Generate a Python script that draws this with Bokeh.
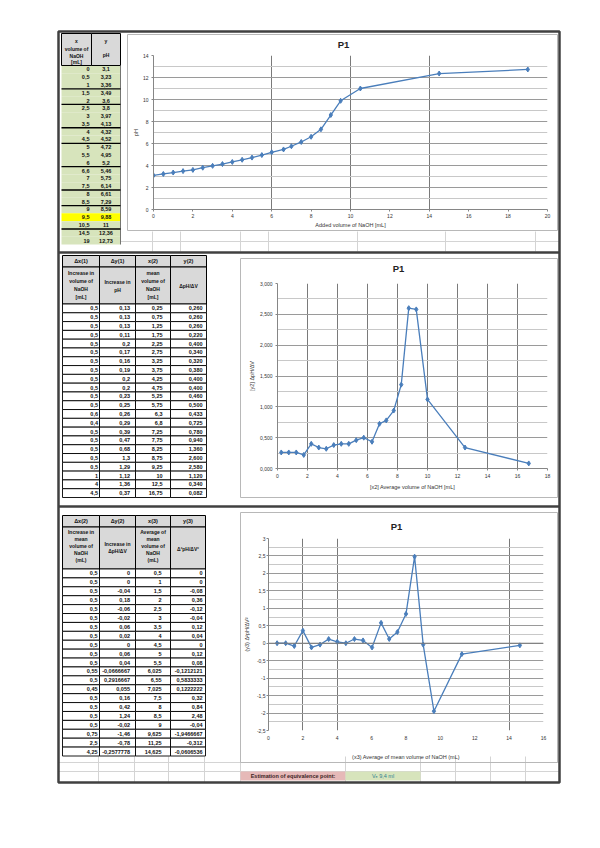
from bokeh.plotting import figure
from bokeh.models import Range1d, FixedTicker, Span
from bokeh.core.properties import value
from bokeh.embed import file_html
from bokeh.resources import INLINE

# ---------------- data ----------------
volume_ml = [0, 0.5, 1, 1.5, 2, 2.5, 3, 3.5, 4, 4.5, 5, 5.5, 6, 6.6, 7, 7.5, 8, 8.5, 9, 9.5, 10.5, 14.5, 19]
ph = [3.10, 3.23, 3.36, 3.49, 3.60, 3.80, 3.97, 4.13, 4.32, 4.52, 4.72, 4.95, 5.20, 5.46, 5.75, 6.14,
      6.61, 7.29, 8.59, 9.88, 11.00, 12.36, 12.73]
equivalence_row = 19

dx1 = [0.5, 0.5, 0.5, 0.5, 0.5, 0.5, 0.5, 0.5, 0.5, 0.5, 0.5, 0.5, 0.6, 0.4, 0.5, 0.5, 0.5, 0.5, 0.5, 1, 4, 4.5]
dy1 = [0.13, 0.13, 0.13, 0.11, 0.2, 0.17, 0.16, 0.19, 0.2, 0.2, 0.23, 0.25, 0.26, 0.29, 0.39, 0.47, 0.68, 1.3,
       1.29, 1.12, 1.36, 0.37]
x2 = [0.25, 0.75, 1.25, 1.75, 2.25, 2.75, 3.25, 3.75, 4.25, 4.75, 5.25, 5.75, 6.3, 6.8, 7.25, 7.75, 8.25, 8.75,
      9.25, 10, 12.5, 16.75]
y2 = [0.26, 0.26, 0.26, 0.22, 0.40, 0.34, 0.32, 0.38, 0.40, 0.40, 0.46, 0.50, 0.4333333, 0.725, 0.78, 0.94,
      1.36, 2.60, 2.58, 1.12, 0.34, 0.0822222]

dx2 = [0.5, 0.5, 0.5, 0.5, 0.5, 0.5, 0.5, 0.5, 0.5, 0.5, 0.5, 0.55, 0.5, 0.45, 0.5, 0.5, 0.5, 0.5, 0.75, 2.5, 4.25]
dy2 = [0, 0, -0.04, 0.18, -0.06, -0.02, 0.06, 0.02, 0, 0.06, 0.04, -0.0666667, 0.2916667, 0.055, 0.16, 0.42,
       1.24, -0.02, -1.46, -0.78, -0.2577778]
x3 = [0.5, 1, 1.5, 2, 2.5, 3, 3.5, 4, 4.5, 5, 5.5, 6.025, 6.55, 7.025, 7.5, 8, 8.5, 9, 9.625, 11.25, 14.625]
y3 = [0, 0, -0.08, 0.36, -0.12, -0.04, 0.12, 0.04, 0, 0.12, 0.08, -0.1212121, 0.5833333, 0.1222222, 0.32,
      0.84, 2.48, -0.04, -1.9466667, -0.312, -0.0606536]

c1_xticks = [0, 2, 4, 6, 8, 10, 12, 14, 16, 18, 20]
c1_yticks = [0, 2, 4, 6, 8, 10, 12, 14]
c2_xticks = [0, 2, 4, 6, 8, 10, 12, 14, 16, 18]
c2_yticks = [0, 0.5, 1, 1.5, 2, 2.5, 3]
c2_ylabels = ["0,000", "0,500", "1,000", "1,500", "2,000", "2,500", "3,000"]
c3_xticks = [0, 2, 4, 6, 8, 10, 12, 14, 16]
c3_yticks = [-2.5, -2, -1.5, -1, -0.5, 0, 0.5, 1, 1.5, 2, 2.5, 3]
c3_ylabels = ["-2,5", "-2", "-1,5", "-1", "-0,5", "0", "0,5", "1", "1,5", "2", "2,5", "3"]

equivalence_label = "Estimation of equivalence point:"
equivalence_value = "Vₑ 9,4 ml"

FONT = value("Liberation Sans")
BLUE = "#4a7ebb"


def g(v, nd=7):
    s = f"{v:.{nd}f}".rstrip("0").rstrip(".")
    if s in ("-0", ""):
        s = "0"
    return s.replace(".", ",")


# ---------------- sheet (background page) ----------------
W, H = 584, 800
sheet = figure(width=W, height=H, x_range=Range1d(8, 8 + W), y_range=Range1d(8 + H, 8),
               toolbar_location=None, output_backend="svg", x_axis_location=None,
               y_axis_location=None, min_border=0, outline_line_color=None)
sheet.grid.visible = False
sheet.styles = {"position": "absolute", "left": "8px", "top": "8px"}


def seg(x0, y0, x1, y1, color, lw):
    sheet.segment(x0=x0, y0=y0, x1=x1, y1=y1, line_color=color, line_width=lw)


def txt(xs, ys, ts, align="right", size="5.5px", bold=True, color="#111111"):
    sheet.text(x=xs, y=ys, text=ts, text_align=align, text_baseline="middle", text_font=FONT,
               text_font_size=size, text_font_style="bold" if bold else "normal", text_color=color)


LIGHT = "#d4d4d4"
vx = [152, 180, 240, 268, 357, 445, 535]
seg(vx, [231] * len(vx), vx, [251] * len(vx), LIGHT, 1)
seg([120], [241], [559], [241], LIGHT, 1)
bx = [98, 134, 168, 204, 240, 345, 420, 455, 490, 525]
seg(bx, [756] * len(bx), bx, [782] * len(bx), LIGHT, 1)
seg([58, 58], [762, 771], [559, 559], [762, 771], LIGHT, 1)

sheet.quad(left=[127, 240, 240], right=[557, 557, 557], top=[34, 258, 512], bottom=[230, 497, 762],
           fill_color=None, line_color="#b8b8b8", line_width=1)

# ---- table 1 ----
c = [61, 91, 120]
n1 = len(volume_ml)
b0, b1 = 65, 244
rh = (b1 - b0) / n1
tops = [b0 + i * rh for i in range(n1)]
fills = ["#ffff00" if i == equivalence_row else "#d7e4bc" for i in range(n1)]
sheet.quad(left=c[0], right=c[2], top=tops, bottom=[t + rh for t in tops], fill_color=fills, line_color=None)
sheet.quad(left=[c[0], c[1]], right=[c[1], c[2]], top=[33, 33], bottom=[65, 65], fill_color="#d9d9d9",
           line_color="black", line_width=1)
seg([c[2]], [65], [c[2]], [b1], "#555555", 0.8)
thick = [3, 5, 8, 10, 13, 16, 18, 21]
ys = [b0 + i * rh for i in thick]
seg([c[0]] * len(ys), ys, [c[2]] * len(ys), ys, "black", 1.4)
mids = [t + rh / 2 for t in tops]
txt([89] * n1, mids, [g(v) for v in volume_ml], "right", "5.5px")
txt([105.5] * n1, mids, [g(v, 2) for v in ph], "center", "5.5px")
txt([76, 76, 76, 76, 105.5, 105.5], [40, 48.5, 55, 61, 40, 54.5],
    ["x", "volume of", "NaOH", "[mL]", "y", "pH"], "center", "5px")


def table(cols, h0, h1, h2, body_end, cols_data, right_x, head1, head2):
    n = len(cols_data[0])
    rhh = (body_end - h2) / n
    L = cols[:-1]
    R = cols[1:]
    sheet.quad(left=L, right=R, top=[h0] * 4, bottom=[h1] * 4, fill_color="#d9d9d9", line_color="black",
               line_width=1)
    sheet.quad(left=L, right=R, top=[h1] * 4, bottom=[h2] * 4, fill_color="#d9d9d9", line_color="black",
               line_width=1)
    lefts, rights, tps, bts = [], [], [], []
    for i in range(n):
        for j in range(4):
            lefts.append(L[j]); rights.append(R[j])
            tps.append(h2 + i * rhh); bts.append(h2 + (i + 1) * rhh)
    sheet.quad(left=lefts, right=rights, top=tps, bottom=bts, fill_color="white", line_color="black",
               line_width=0.9)
    m = [h2 + (i + 0.5) * rhh for i in range(n)]
    for j in range(4):
        txt([right_x[j]] * n, m, cols_data[j], "right", "5.5px")
    cx = [(L[j] + R[j]) / 2 for j in range(4)]
    txt(cx, [(h0 + h1) / 2] * 4, head1, "center", "5.5px")
    for j, (lines, ypos) in enumerate(head2):
        txt([cx[j]] * len(lines), ypos, lines, "center", "5px")


table([62, 99, 135, 170, 206], 255, 266.5, 303.5, 497,
      [[g(v) for v in dx1], [g(v) for v in dy1], [g(v) for v in x2], [f"{v:.3f}".replace(".", ",") for v in y2]],
      [97.5, 129.5, 162, 202],
      ["Δx(1)", "Δy(1)", "x(2)", "y(2)"],
      [(["Increase in", "volume of", "NaOH", "[mL]"], [272.5, 280.5, 288.5, 296.5]),
       (["Increase in", "pH"], [281, 289]),
       (["mean", "volume of", "NaOH", "[mL]"], [272.5, 280.5, 288.5, 296.5]),
       (["ΔpH/ΔV"], [285])])
table([62, 99, 135, 170, 205], 515, 526.5, 568.5, 755.5,
      [[g(v) for v in dx2], [g(v) for v in dy2], [g(v) for v in x3], [g(v) for v in y3]],
      [97, 129.5, 161, 202],
      ["Δx(2)", "Δy(2)", "x(3)", "y(3)"],
      [(["Increase in", "mean", "volume of", "NaOH", "(mL)"], [531.5, 538.5, 545.5, 552.5, 559.5]),
       (["Increase in", "ΔpH/ΔV"], [543, 550]),
       (["Average of", "mean", "volume of", "NaOH", "(mL)"], [531.5, 538.5, 545.5, 552.5, 559.5]),
       (["Δ²pH/ΔV²"], [548])])

sheet.quad(left=[240, 345], right=[345, 420], top=[771, 771], bottom=[780, 780],
           fill_color=["#e6b9b8", "#d7e4bc"], line_color=None)
txt([292.5], [775.7], [equivalence_label], "center", "5.5px", True, "#3a1f1f")
txt([382.5], [775.7], [equivalence_value], "center", "5.5px", False, "#2f7f8f")

seg([58, 58], [252, 506], [559, 559], [252, 506], "#404040", 2.5)
sheet.quad(left=[58], right=[559], top=[31], bottom=[782], fill_color=None, line_color="#404040",
           line_width=2.5)

txt([343, 398, 396], [43.5, 268, 526], ["P1", "P1", "P1"], "center", "9.5px", True, "#222222")


# ---------------- charts ----------------
def chart(box, frame, xr, yr, xticks, yticks, ylabels, xgrid_ticks, ymajor, yminor, xlabel, ylabel,
          xstand, xlstand, ystand, ylstand):
    bl, bt, br, bb = box
    fl, ft, fr, fb = frame
    p = figure(width=br - bl, height=bb - bt, x_range=Range1d(*xr), y_range=Range1d(*yr),
               toolbar_location=None, output_backend="svg",
               min_border_left=fl - bl, min_border_right=br - fr, min_border_top=ft - bt,
               min_border_bottom=bb - fb, background_fill_alpha=0, border_fill_alpha=0,
               outline_line_color=None)
    p.styles = {"position": "absolute", "left": f"{bl}px", "top": f"{bt}px"}
    p.xaxis.ticker = FixedTicker(ticks=xticks)
    p.yaxis.ticker = FixedTicker(ticks=yticks)
    if ylabels is not None:
        p.yaxis.major_label_overrides = {t: l for t, l in zip(yticks, ylabels)}
    for ax in (p.xaxis[0], p.yaxis[0]):
        ax.axis_line_color = "#868686"
        ax.major_tick_line_color = "#868686"
        ax.major_tick_out = 2
        ax.major_tick_in = 0
        ax.minor_tick_line_color = None
        ax.major_label_text_font = "Liberation Sans"
        ax.major_label_text_font_size = "5px"
        ax.major_label_text_color = "#333333"
        ax.axis_label_text_font = "Liberation Sans"
        ax.axis_label_text_font_size = "5.5px"
        ax.axis_label_text_font_style = "normal"
        ax.axis_label_text_color = "#333333"
    p.xaxis.axis_label = xlabel
    p.yaxis.axis_label = ylabel
    p.xaxis.major_label_standoff = xstand
    p.xaxis.axis_label_standoff = xlstand
    p.yaxis.major_label_standoff = ystand
    p.yaxis.axis_label_standoff = ylstand
    p.xgrid.ticker = FixedTicker(ticks=xgrid_ticks)
    p.xgrid.grid_line_color = "#7a7a7a"
    p.ygrid.ticker = FixedTicker(ticks=ymajor, minor_ticks=yminor)
    p.ygrid.grid_line_color = "#9a9a9a"
    p.ygrid.minor_grid_line_color = "#c8c8c8"
    return p


c1 = chart((127, 34, 557, 230), (153, 55, 547, 209), (0, 20), (0, 14), c1_xticks, c1_yticks, None,
           [6, 10, 14], c1_yticks, [1, 3, 5, 7, 9, 11, 13],
           "Added volume of NaOH [mL]", "pH", 2, 1, 3, 1)
c1.line(volume_ml, ph, line_color=BLUE, line_width=1.3)
c1.scatter(volume_ml, ph, marker="diamond", size=5, color=BLUE)

c2 = chart((240, 258, 557, 497), (277, 283, 547, 468), (0, 18), (0, 3), c2_xticks, c2_yticks, c2_ylabels,
           [2, 4, 6, 8, 10, 12, 14, 16], c2_yticks, [0.25, 0.75, 1.25, 1.75, 2.25, 2.75],
           "[x2] Average volume of NaOH [mL]", "[y2] ΔpH/ΔV", 3, 3, 3, 2)
c2.line(x2, y2, line_color=BLUE, line_width=1.3)
c2.scatter(x2, y2, marker="diamond", size=5, color=BLUE)

c3 = chart((240, 512, 557, 762), (268, 538, 543, 732), (0, 16), (-2.5, 3), c3_xticks, c3_yticks, c3_ylabels,
           [2, 4, 14], c3_yticks, [-2.25, -1.75, -1.25, -0.75, -0.25, 0.25, 0.75, 1.25, 1.75, 2.25, 2.75],
           "(x3) Average of mean volume of NaOH (mL)", "(y3) Δ²pH/ΔV²", 3, 11, 1, 4)
c3.xaxis.axis_line_color = None
c3.xaxis.major_tick_line_color = None
c3.add_layout(Span(location=0, dimension="width", line_color="#7a7a7a", line_width=1))
c3.line(x3, y3, line_color=BLUE, line_width=1.3)
c3.scatter(x3, y3, marker="diamond", size=5, color=BLUE)

open("out.html", "w").write(file_html([sheet, c1, c2, c3], INLINE))
